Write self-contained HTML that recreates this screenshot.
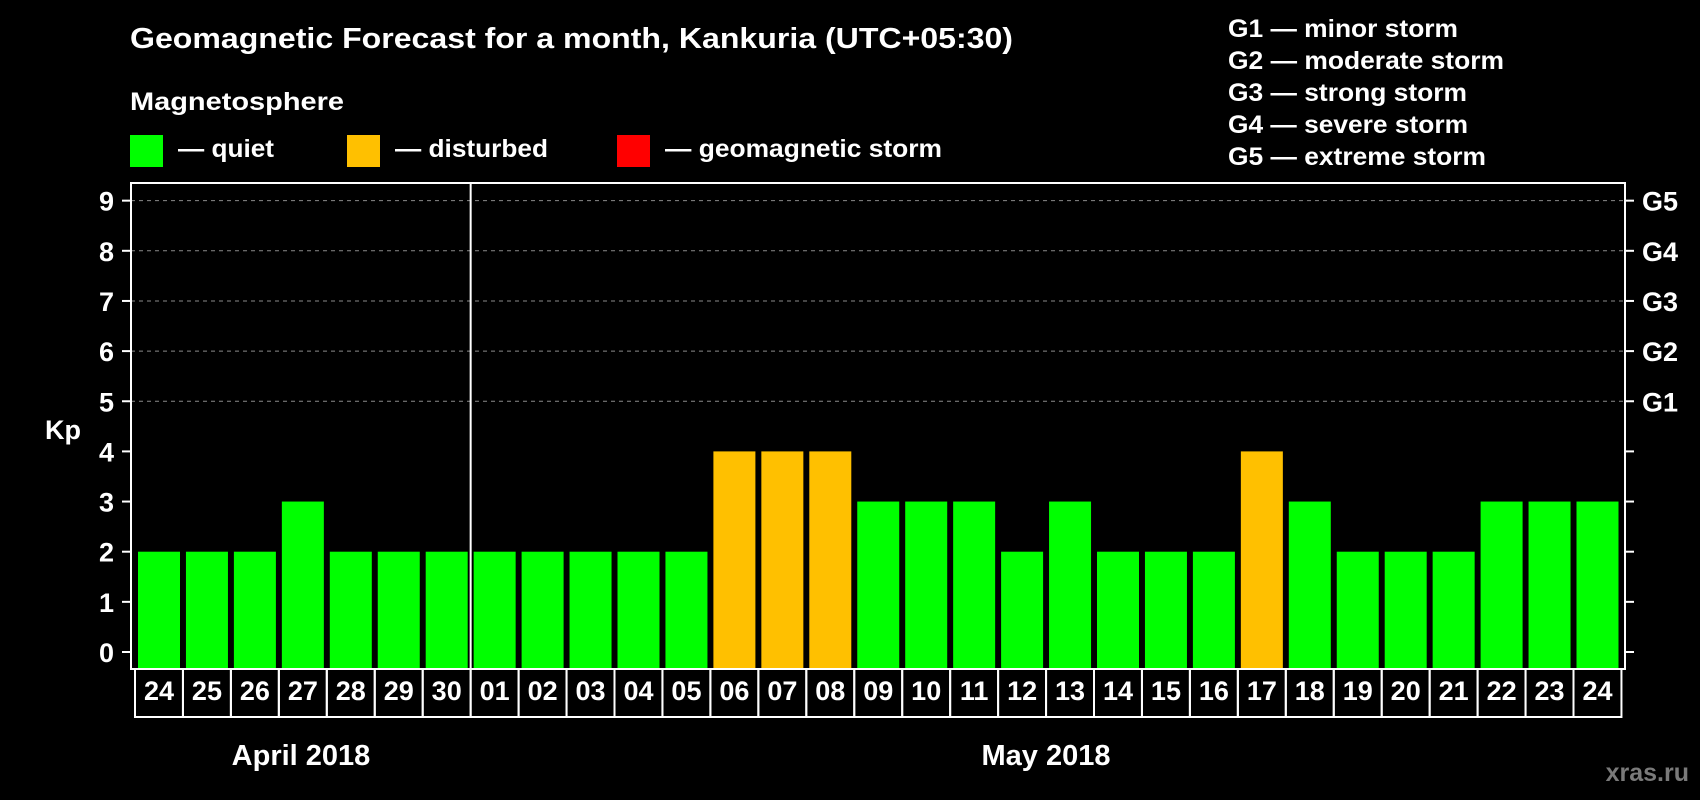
<!DOCTYPE html>
<html><head><meta charset="utf-8"><style>
html,body{margin:0;padding:0;background:#000;}
svg{display:block;font-family:"Liberation Sans",Arial,sans-serif;font-weight:bold;}
</style></head><body>
<svg id="chart" width="1700" height="800" viewBox="0 0 1700 800">
<rect x="0" y="0" width="1700" height="800" fill="#000"/>
<text x="130" y="48" font-size="29" fill="#fff" textLength="883" lengthAdjust="spacingAndGlyphs">Geomagnetic Forecast for a month, Kankuria (UTC+05:30)</text>
<text x="130" y="110" font-size="25" fill="#fff" textLength="214" lengthAdjust="spacingAndGlyphs">Magnetosphere</text>
<g>
<rect x="130" y="135" width="33" height="32" fill="#00ff00"/>
<text x="178" y="157" font-size="25" fill="#fff" textLength="96" lengthAdjust="spacingAndGlyphs">— quiet</text>
</g>
<g>
<rect x="347" y="135" width="33" height="32" fill="#ffc000"/>
<text x="395" y="157" font-size="25" fill="#fff" textLength="153" lengthAdjust="spacingAndGlyphs">— disturbed</text>
</g>
<g>
<rect x="617" y="135" width="33" height="32" fill="#ff0000"/>
<text x="665" y="157" font-size="25" fill="#fff" textLength="277" lengthAdjust="spacingAndGlyphs">— geomagnetic storm</text>
</g>
<g font-size="25" fill="#fff">
<text x="1228" y="37" textLength="230" lengthAdjust="spacingAndGlyphs">G1 — minor storm</text>
<text x="1228" y="69" textLength="276" lengthAdjust="spacingAndGlyphs">G2 — moderate storm</text>
<text x="1228" y="101" textLength="239" lengthAdjust="spacingAndGlyphs">G3 — strong storm</text>
<text x="1228" y="133" textLength="240" lengthAdjust="spacingAndGlyphs">G4 — severe storm</text>
<text x="1228" y="165" textLength="258" lengthAdjust="spacingAndGlyphs">G5 — extreme storm</text>
</g>
<text x="63" y="439" font-size="27" fill="#fff" text-anchor="middle">Kp</text>
<text x="301" y="765" font-size="29" fill="#fff" text-anchor="middle">April 2018</text>
<text x="1046" y="765" font-size="29" fill="#fff" text-anchor="middle">May 2018</text>
<text x="1689" y="781" font-size="25" fill="#7a7a7a" text-anchor="end">xras.ru</text>
<g id="plot"></g>
</svg>
<script>
const days = ["24","25","26","27","28","29","30","01","02","03","04","05","06","07","08","09","10","11","12","13","14","15","16","17","18","19","20","21","22","23","24"];
const kpValues = [2,2,2,3,2,2,2,2,2,2,2,2,4,4,4,3,3,3,2,3,2,2,2,4,3,2,2,2,3,3,3];
const yTicks = [0,1,2,3,4,5,6,7,8,9];
const gLabels = ["G1","G2","G3","G4","G5"];
const gLevels = [5,6,7,8,9];
const monthSplitIndex = 7;

const NS = "http://www.w3.org/2000/svg";
const plot = document.getElementById("plot");
const frameL = 131, frameR = 1625, frameT = 183, frameB = 669;
const y0 = 652, unit = 50.15;
const x0 = 138, pitch = 47.95, barW = 42;
function yScale(v){ return y0 - v*unit; }
function xScale(i){ return x0 + i*pitch; }
function mk(tag, attrs){ const e = document.createElementNS(NS, tag); for (const k in attrs) e.setAttribute(k, attrs[k]); plot.appendChild(e); return e; }
function colorFor(v){ return v >= 5 ? "#ff0000" : (v >= 4 ? "#ffc000" : "#00ff00"); }

yTicks.forEach(function(t){
  const y = yScale(t);
  if (t >= 5) {
    const g = mk("line", {x1: frameL, x2: frameR, y1: y, y2: y, stroke: "#8a8a8a", "stroke-width": 1, "stroke-dasharray": "4,4"});
    
    
  }
  const tl = mk("line", {x1: 122, x2: frameL, y1: y, y2: y, stroke: "#fff", "stroke-width": 2});
  
  
  const tr = mk("line", {x1: frameR, x2: 1634, y1: y, y2: y, stroke: "#fff", "stroke-width": 2});
  
  
  const lb = mk("text", {x: 114, y: y + 10, "font-size": 27, fill: "#fff", "text-anchor": "end"});
  lb.textContent = String(t);
  
  
});
gLevels.forEach(function(lv, i){
  const t = mk("text", {x: 1642, y: yScale(lv) + 10, "font-size": 27, fill: "#fff"});
  t.textContent = gLabels[i];
  
  
});

kpValues.forEach(function(v, i){
  const x = xScale(i);
  const b = mk("rect", {x: x, y: yScale(v), width: barW, height: (frameB - 1) - yScale(v), fill: colorFor(v)});
  
  
  const box = mk("rect", {x: x - 3, y: frameB, width: pitch, height: 48, fill: "none", stroke: "#fff", "stroke-width": 2});
  
  
  const t = mk("text", {x: x + barW/2, y: 700, "font-size": 27, fill: "#fff", "text-anchor": "middle"});
  t.textContent = days[i];
  
  
});

const frame = mk("rect", {x: frameL, y: frameT, width: frameR - frameL, height: frameB - frameT, fill: "none", stroke: "#fff", "stroke-width": 2});


const sx = xScale(monthSplitIndex) - 3;
const sep = mk("line", {x1: sx, x2: sx, y1: frameT, y2: frameB, stroke: "#fff", "stroke-width": 2});


</script>
</body></html>
